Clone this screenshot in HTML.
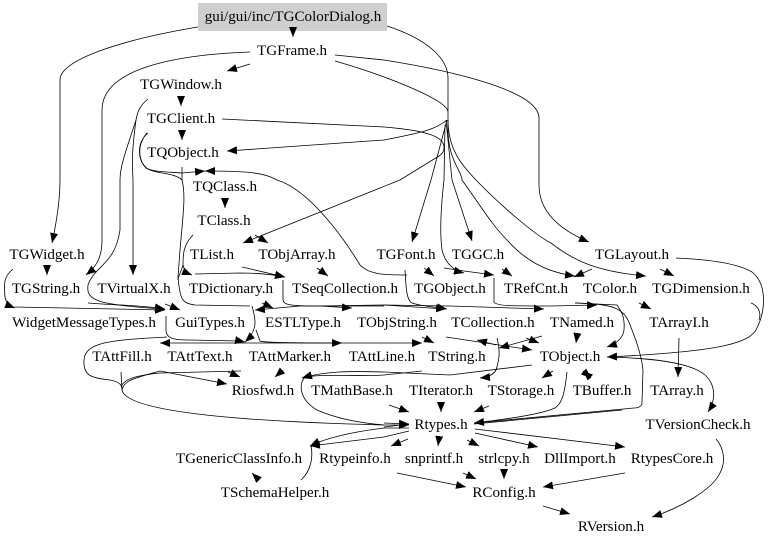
<!DOCTYPE html>
<html><head><meta charset="utf-8"><style>
html,body{margin:0;padding:0;background:#fff}
svg{display:block}
text{font-family:"Liberation Serif",serif;font-size:15.1px;text-anchor:middle;fill:#000}
path{fill:none;stroke:#000;stroke-width:.8}
.a{marker-end:url(#h)}
</style></head><body>
<svg width="768" height="545" viewBox="0 0 768 545" xmlns="http://www.w3.org/2000/svg">
<defs><marker id="h" markerUnits="userSpaceOnUse" markerWidth="11" markerHeight="9" refX="10" refY="4" orient="auto"><polygon points="0,0 10,4 0,8" fill="#000"/></marker></defs>
<rect x="198" y="3" width="189" height="28" fill="#cfcfcf"/>
<g>
<path class="a" d="M293 31L293 37"/>
<path class="a" d="M198 27C120 40 60 60 60 80L60 180C60 200 57 220 52 243"/>
<path d="M387 26C430 40 448 60 448 78L448 120"/>
<path class="a" d="M447 120C435 130 420 133 384 140L227 151"/>
<path class="a" d="M222 119L384 127C420 130 444 135 444 147C444 152 442 154 439 156L400 180L243 243"/>
<path class="a" d="M335 55L384 60C447 70 539 90 539 118L539 185C539 215 565 232 589 242"/>
<path d="M335 61C384 75 448 100 448 112"/>
<path class="a" d="M250 52C170 55 102 70 102 110L102 240C102 258 96 267 86 275"/>
<path class="a" d="M148 99C138 107 137 115 136 120C132 150 132 160 133 180L133 275"/>
<path class="a" d="M136 120C128 145 120 165 120 180L120 230C115 265 95 265 88 285C86 300 95 305 165 309"/>
<path class="a" d="M148 133C136 143 138 160 146 168C152 172 170 172 182 173L205 171"/>
<path class="a" d="M407 275C385 275 370 275 360 265C345 240 310 190 277 180C265 173 250 171 205 171"/>
<path d="M182 167L182 180C186 195 183 215 180 250L178 277C180 300 182 303 195 305L250 306"/>
<path d="M147 133C136 145 138 165 150 170C160 174 175 173 182 180"/>
<path class="a" d="M193 235C183 245 183 255 183 265C184 270 187 273 192 275"/>
<path d="M183 265C181 272 178 277 178 280"/>
<path class="a" d="M195 274L240 273C255 273 270 274 285 277"/>
<path class="a" d="M242 267L285 277"/>
<path class="a" d="M283 280L283 300C284 305 290 306 320 306L352 308"/>
<path class="a" d="M320 306L384 305L446 309"/>
<path class="a" d="M384 305L450 306L544 309"/>
<path class="a" d="M165 304L180 310"/>
<path class="a" d="M262 303L273 308"/>
<path class="a" d="M384 306L300 306L255 310"/>
<path class="a" d="M252 306C256 320 258 330 245 342"/>
<path class="a" d="M166 316L166 330C166 338 172 340 190 340L240 341L245 342"/>
<path class="a" d="M256 330L260 341C262 342 270 343 342 343"/>
<path class="a" d="M342 343L160 343"/>
<path class="a" d="M342 343L422 343"/>
<path class="a" d="M422 337L434 343"/>
<path d="M167 337C120 340 85 340 84 360C83 375 90 378 110 380C120 382 122 385 122 390C125 405 180 420 384 425"/>
<path d="M121 372L122 390C124 380 135 378 160 371"/>
<path d="M122 385C126 378 140 375 160 373"/>
<path class="a" d="M160 371L227 384"/>
<path d="M160 373L241 371"/>
<path class="a" d="M228 372L240 377"/>
<path class="a" d="M283 370L275 377"/>
<path class="a" d="M384 372C350 371 325 371 302 378"/>
<path class="a" d="M422 371L384 375C350 377 320 373 302 378"/>
<path d="M305 377C298 385 300 400 317 410C335 418 360 423 384 425"/>
<path d="M384 372L450 375L532 365"/>
<path class="a" d="M384 425L409 425"/>
<path class="a" d="M384 423L409 424"/>
<path d="M384 427L409 424"/>
<path class="a" d="M409 428L384 428C360 431 330 436 310 446"/>
<path class="a" d="M409 431L384 437L310 446"/>
<path d="M311 446C313 455 312 470 301 480"/>
<path class="a" d="M259 480L252 473"/>
<path class="a" d="M408 439L391 446"/>
<path class="a" d="M439 438L438 446"/>
<path class="a" d="M467 440L479 446"/>
<path class="a" d="M475 433L538 447"/>
<path class="a" d="M475 429L625 447"/>
<path class="a" d="M397 473L466 487"/>
<path class="a" d="M463 473L476 479"/>
<path class="a" d="M504 471L504 479"/>
<path class="a" d="M625 473L543 487"/>
<path class="a" d="M543 506L570 514"/>
<path class="a" d="M716 439C724 448 726 462 720 473C712 490 680 508 652 517"/>
<path class="a" d="M47 267L47 275"/>
<path class="a" d="M13 269C3 277 4 285 5 297C6 303 10 306 15 308"/>
<path class="a" d="M15 307L165 310"/>
<path class="a" d="M88 303C110 305 140 305 165 309"/>
<path class="a" d="M225 200L225 208"/>
<path class="a" d="M255 235L268 243"/>
<path class="a" d="M317 268L328 276"/>
<path class="a" d="M250 64L227 71"/>
<path class="a" d="M181 97L181 106"/>
<path class="a" d="M182 132L182 140"/>
<path d="M447 120L431 180"/>
<path class="a" d="M431 180L412 242"/>
<path d="M446 120L452 180"/>
<path class="a" d="M452 180L472 241"/>
<path class="a" d="M448 120C446 160 462 170 462 180C480 205 492 225 507 240C525 260 545 272 575 276"/>
<path class="a" d="M448 120C448 150 462 165 476 180C500 205 535 235 551 243C575 262 600 272 646 276"/>
<path class="a" d="M445 125L444 180C440 215 440 235 442 250C445 262 452 270 464 273"/>
<path class="a" d="M444 268L464 271L494 275"/>
<path class="a" d="M405 270C406 285 406 300 412 303C420 306 435 307 447 309"/>
<path class="a" d="M424 268L434 276"/>
<path class="a" d="M502 269L512 276"/>
<path class="a" d="M592 269L574 277"/>
<path class="a" d="M660 269L674 276"/>
<path class="a" d="M676 258C700 259 735 262 752 272C768 285 765 312 757 328C750 345 710 352 607 357"/>
<path d="M751 303C757 305 762 312 759 320"/>
<path class="a" d="M639 303L651 309"/>
<path class="a" d="M679 338L678 377"/>
<path class="a" d="M494 278L494 302C496 306 510 306 550 306L597 305"/>
<path class="a" d="M575 303L617 305C622 312 625 318 624 330C623 338 616 344 607 347"/>
<path d="M575 303C620 304 625 310 632 330C638 345 642 360 643 370L642 403C642 407 637 408 634 408L474 423"/>
<path d="M622 410L474 424"/>
<path class="a" d="M607 357C650 358 690 362 705 375C716 385 716 400 708 412"/>
<path class="a" d="M446 337L532 350"/>
<path class="a" d="M526 338L539 343"/>
<path class="a" d="M542 336L499 348"/>
<path d="M497 338C500 350 500 358 496 370C494 374 490 376 482 378"/>
<path class="a" d="M496 345L477 340"/>
<path class="a" d="M497 368C495 373 490 377 480 378"/>
<path class="a" d="M577 336L576 343"/>
<path class="a" d="M567 372C565 390 563 403 555 408C540 415 500 420 474 423"/>
<path class="a" d="M489 406L474 412"/>
<path class="a" d="M441 403L441 412"/>
<path class="a" d="M389 405L409 412"/>
<path class="a" d="M553 371L542 378"/>
<path class="a" d="M583 371L591 378"/>
<path class="a" d="M591 378L583 371"/>
</g>
<text x="293" y="21">gui/gui/inc/TGColorDialog.h</text>
<text x="292" y="55">TGFrame.h</text>
<text x="181" y="89">TGWindow.h</text>
<text x="181" y="123">TGClient.h</text>
<text x="183" y="157">TQObject.h</text>
<text x="225" y="191">TQClass.h</text>
<text x="224" y="225">TClass.h</text>
<text x="47" y="259">TGWidget.h</text>
<text x="212" y="259">TList.h</text>
<text x="297" y="259">TObjArray.h</text>
<text x="406" y="259">TGFont.h</text>
<text x="478" y="259">TGGC.h</text>
<text x="632" y="259">TGLayout.h</text>
<text x="46" y="293">TGString.h</text>
<text x="134" y="293">TVirtualX.h</text>
<text x="231" y="293">TDictionary.h</text>
<text x="345" y="293">TSeqCollection.h</text>
<text x="450" y="293">TGObject.h</text>
<text x="536" y="293">TRefCnt.h</text>
<text x="610" y="293">TColor.h</text>
<text x="701" y="293">TGDimension.h</text>
<text x="84" y="327">WidgetMessageTypes.h</text>
<text x="210" y="327">GuiTypes.h</text>
<text x="303" y="327">ESTLType.h</text>
<text x="397" y="327">TObjString.h</text>
<text x="493" y="327">TCollection.h</text>
<text x="582" y="327">TNamed.h</text>
<text x="679" y="327">TArrayI.h</text>
<text x="122" y="361">TAttFill.h</text>
<text x="200" y="361">TAttText.h</text>
<text x="290" y="361">TAttMarker.h</text>
<text x="382" y="361">TAttLine.h</text>
<text x="457" y="361">TString.h</text>
<text x="570" y="361">TObject.h</text>
<text x="263" y="395">Riosfwd.h</text>
<text x="352" y="395">TMathBase.h</text>
<text x="441" y="395">TIterator.h</text>
<text x="521" y="395">TStorage.h</text>
<text x="602" y="395">TBuffer.h</text>
<text x="677" y="395">TArray.h</text>
<text x="441" y="429">Rtypes.h</text>
<text x="698" y="429">TVersionCheck.h</text>
<text x="239" y="463">TGenericClassInfo.h</text>
<text x="355" y="463">Rtypeinfo.h</text>
<text x="434" y="463">snprintf.h</text>
<text x="504" y="463">strlcpy.h</text>
<text x="580" y="463">DllImport.h</text>
<text x="672" y="463">RtypesCore.h</text>
<text x="275" y="497">TSchemaHelper.h</text>
<text x="504" y="497">RConfig.h</text>
<text x="611" y="531">RVersion.h</text>
</svg>
</body></html>
